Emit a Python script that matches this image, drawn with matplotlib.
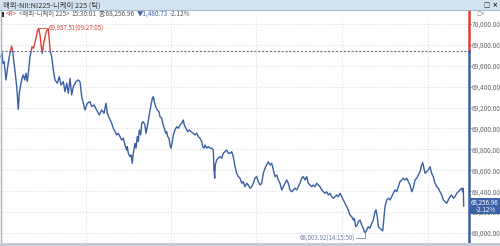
import matplotlib
matplotlib.use("Agg")
import matplotlib.pyplot as plt
import matplotlib.transforms as mtransforms
from matplotlib.patches import Rectangle
from matplotlib.lines import Line2D
import numpy as np

plt.rcParams['font.family'] = ['Noto Sans CJK KR', 'DejaVu Sans']

# ---------------- data ----------------
title = "해외-NII:NI225-니케이 225 (틱)"
header_parts = ["<R>", "<해외-니케이 225>", "15:30:01", "종:68,256.96", "▼1,480.73", "-2.12%"]
prev_close = 69737.69
last_price = 68256.96
last_change_pct = "-2.12%"
max_label = "69,957.51(09:27:05)"
min_label = "68,003.92(14:15:50)"

tick = [10, 20, 30, 40, 50, 60, 73, 87, 100, 117, 127, 140, 153, 167, 183, 193, 207, 220, 233, 247,
        260, 273, 287, 300, 310, 320, 333, 347, 360, 373, 387, 400, 413, 423, 437, 450, 467, 483, 493, 503,
        517, 533, 550, 573, 593, 610, 633, 650, 667, 683, 700, 717, 733, 760, 783, 800, 817, 833, 850, 873,
        900, 917, 940, 967, 993, 1017, 1040, 1060, 1073, 1093, 1117, 1133,
        1150, 1167, 1183, 1200, 1217, 1233, 1250, 1267, 1273, 1283, 1300, 1310, 1323, 1333, 1350, 1360,
        1373, 1383, 1393, 1407, 1417, 1433, 1450, 1460, 1473, 1490, 1507, 1523, 1533, 1543, 1557, 1573,
        1590, 1600, 1617, 1627, 1643, 1657, 1667, 1677, 1690, 1700, 1710, 1723, 1733, 1750, 1767, 1783,
        1800, 1817, 1833, 1843, 1860, 1877, 1893, 1910, 1933, 1950, 1967, 1983, 2000, 2017, 2027, 2040,
        2050, 2067, 2083, 2100, 2117, 2133, 2140, 2147, 2153, 2167, 2183, 2200, 2217, 2233, 2250, 2267,
        2283,
        2300, 2317, 2333, 2350, 2367, 2383, 2400, 2417, 2433, 2450, 2467, 2483, 2500, 2517, 2533, 2550,
        2567, 2583, 2600, 2617, 2633, 2650, 2667, 2683, 2700, 2717, 2733, 2750, 2767, 2783, 2800, 2817,
        2833, 2850, 2867, 2883, 2900, 2917, 2933, 2950, 2967, 2983, 3000, 3017, 3033, 3050, 3067, 3083,
        3100, 3117, 3133, 3150, 3167, 3183, 3200, 3217, 3233, 3250, 3267, 3283, 3300, 3317, 3333, 3350,
        3367, 3383, 3400, 3417, 3433, 3450, 3467, 3483, 3500,
        3517, 3533, 3543, 3557, 3573, 3583, 3600, 3617, 3633, 3643, 3653, 3667, 3683, 3700, 3717, 3733,
        3750, 3760, 3773, 3783, 3800, 3817, 3827, 3840, 3850, 3867, 3883, 3900, 3917, 3933, 3950, 3967,
        3983, 4000, 4017, 4033, 4050, 4067, 4083, 4100, 4117, 4133, 4150, 4167, 4183, 4200, 4217, 4227,
        4240, 4250, 4267, 4283, 4300, 4317, 4333, 4350, 4367, 4383, 4400, 4417, 4433, 4450, 4467, 4483,
        4500, 4517, 4533, 4550, 4567, 4583, 4600, 4617, 4627, 4633, 4637]

price = [69687, 69720, 69624, 69639, 69560, 69464, 69560, 69655, 69720, 69790, 69735, 69624, 69528, 69400, 69184, 69337, 69416, 69480, 69512, 69464,
         69528, 69448, 69560, 69687, 69735, 69783, 69767, 69809, 69863, 69926, 69957.51, 69895, 69783, 69720, 69815, 69878, 69936, 69949, 69847, 69735,
         69687, 69560, 69464, 69433, 69496, 69416, 69448, 69352, 69433, 69337, 69480, 69321, 69400, 69448, 69464, 69448, 69304, 69241, 69177, 69241,
         69256, 69209, 69225, 69177, 69129, 69177, 69145, 69241, 69145, 69098, 69050, 69002,
         68969, 68938, 68954, 68922, 68890, 68906, 68842, 68794, 68826, 68763, 68730, 68746, 68667, 68763, 68858, 68811,
         68922, 68874, 68986, 68938, 69050, 69065, 69033, 68954, 69017, 69113, 69209, 69289, 69304, 69256, 69209, 69177,
         69161, 69113, 69098, 69050, 69002, 68954, 68969, 68922, 68906, 68842, 68811, 68874, 68938, 68986, 69017, 69002,
         69033, 69050, 69081, 69033, 69002, 68969, 68986, 68969, 68954, 68938, 68954, 68922, 68906, 68874, 68826, 68811,
         68842, 68811, 68826, 68811, 68811, 68794, 68603, 68524, 68651, 68699, 68715, 68730, 68715, 68763, 68778, 68794,
         68763,
         68763, 68778, 68730, 68634, 68571, 68539, 68524, 68476, 68491, 68443, 68476, 68459, 68428, 68443, 68476, 68524,
         68539, 68491, 68459, 68476, 68571, 68619, 68651, 68682, 68651, 68667, 68603, 68539, 68555, 68507, 68476, 68412,
         68443, 68476, 68507, 68476, 68412, 68395, 68412, 68428, 68412, 68443, 68476, 68524, 68539, 68507, 68539, 68476,
         68459, 68443, 68459, 68443, 68476, 68459, 68443, 68412, 68395, 68380, 68395, 68364, 68380, 68347, 68332, 68347,
         68364, 68347, 68380, 68347, 68316, 68284, 68252, 68220, 68172,
         68156, 68124, 68141, 68060, 68077, 68108, 68124, 68077, 68045, 68012, 68003.92, 68029, 68060, 68045, 68093, 68124,
         68204, 68220, 68156, 68060, 68045, 68029, 68020, 68156, 68252, 68316, 68332, 68316, 68347, 68380, 68412, 68395,
         68443, 68491, 68507, 68524, 68507, 68524, 68491, 68459, 68395, 68428, 68507, 68524, 68555, 68587, 68651, 68673,
         68619, 68571, 68587, 68603, 68634, 68571, 68539, 68476, 68443, 68428, 68395, 68364, 68316, 68300, 68284, 68316,
         68347, 68364, 68332, 68347, 68380, 68395, 68412, 68428, 68395, 68428, 68256.96]

y_ticks = [68000, 68200, 68400, 68600, 68800, 69000, 69200, 69400, 69600, 69800, 70000]
x_grid = [860, 1710, 2560, 3420, 4280]

# ---------------- figure ----------------
W, H = 500, 246
fig = plt.figure(figsize=(W / 100, H / 100), dpi=100)
fig.patch.set_facecolor('white')

def fx(px):
    return px / W

def fy(py):
    return 1 - py / H

ax_left, ax_right, ax_top, ax_bot = 1, 468, 18, 243
ax = fig.add_axes([fx(ax_left), fy(ax_bot), fx(ax_right - ax_left), (ax_bot - ax_top) / H])
ax.set_facecolor('white')

ymax_v = 70057
ymin_v = 67904
ax.set_xlim(10, 4680)
ax.set_ylim(ymin_v, ymax_v)

# grid
for v in y_ticks:
    ax.axhline(v, color='#d5dae3', lw=0.6, ls=(0, (1.5, 2)), zorder=1)
for t in x_grid:
    ax.axvline(t, color='#d5dae3', lw=0.6, ls=(0, (1.5, 2)), zorder=1)
ax.axhline(prev_close, color='#707070', lw=0.8, ls=(0, (2, 1.5)), zorder=2)

blue = '#3a5fa5'
red = '#de4038'
x = np.array(tick, dtype=float)
p = np.array(price, dtype=float)

l_blue, = ax.plot(x, p, color=blue, lw=1.0, zorder=3)
l_red, = ax.plot(x, p, color=red, lw=1.0, zorder=4)
clip_above = Rectangle((0, prev_close), 10000, 5000, transform=ax.transData)
clip_below = Rectangle((0, prev_close - 5000), 10000, 5000, transform=ax.transData)
l_red.set_clip_path(clip_above)
l_blue.set_clip_path(clip_below)

# max annotation
imax = int(np.argmax(p))
ax.plot([x[imax], 485], [p[imax], p[imax]], color=red, lw=0.6, zorder=4)
ax.text(490, p[imax], max_label, color=red, fontsize=4.4, va='center', ha='left', zorder=5)

# min annotation
imin = int(np.argmin(p))
ax.plot([3560, x[imin], x[imin]], [p[imin] - 55, p[imin] - 55, p[imin] - 5], color='#7a8aa8',
        lw=0.6, zorder=4, clip_on=False)
ax.text(3550, p[imin] - 55, min_label, color='#6f7f9c', fontsize=4.4, va='center', ha='right', zorder=5)

# axes styling
for s in ['left', 'top', 'bottom', 'right']:
    ax.spines[s].set_visible(False)
ax.set_xticks([])
ax.yaxis.tick_right()
ax.set_yticks(y_ticks)
ax.set_yticklabels([f"{v:,.2f}" for v in y_ticks])
ax.tick_params(axis='y', length=2, width=0.6, color='#5a6f99', labelsize=4.7, labelcolor='#666666', pad=0.6)

# right axis line split at previous close
yt = ax.get_yaxis_transform()
ax.plot([1.002, 1.002], [prev_close, ymax_v + 200], color=red, lw=1.8, transform=yt, clip_on=False, zorder=6)
ax.plot([1.002, 1.002], [ymin_v, prev_close], color=blue, lw=1.8, transform=yt, clip_on=False, zorder=6)

# current price box
bt = mtransforms.blended_transform_factory(fig.transFigure, ax.transData)
box_h = 150
fig.add_artist(Rectangle((fx(469), last_price - box_h * 0.5), fx(31), box_h, transform=bt,
                         facecolor='#3d62a8', edgecolor='none', zorder=5))
fig.add_artist(plt.Text(fx(470.5), last_price + 36, f"{last_price:,.2f}", transform=bt, color='white',
                        fontsize=4.5, va='center', ha='left', zorder=6))
fig.add_artist(plt.Text(fx(476), last_price - 38, last_change_pct, transform=bt, color='white',
                        fontsize=4.5, va='center', ha='left', zorder=6))

# ---------------- frame / header ----------------
fig.add_artist(Rectangle((0, fy(10)), 1, 10 / H, transform=fig.transFigure,
                         facecolor='#d3e2f0', edgecolor='none', zorder=1))
fig.add_artist(Line2D([0, 1], [fy(10), fy(10)], transform=fig.transFigure, color='#9db6cf', lw=0.7, zorder=2))
fig.add_artist(Line2D([fx(0.5), fx(0.5)], [fy(10), fy(246)], transform=fig.transFigure, color='#9db6cf', lw=1.0, zorder=2))
fig.add_artist(Rectangle((0, 0), 1, 3 / H, transform=fig.transFigure,
                         facecolor='#c5ccd6', edgecolor='none', zorder=2))

fig.text(fx(3), fy(5.2), title, fontsize=5.3, color='#333333', va='center', ha='left')
fig.text(fx(484), fy(5), "□ ×", fontsize=4.8, color='#222222', va='center', ha='left',
         family=['DejaVu Sans'], fontweight='bold')
fig.text(fx(477), fy(13.5), "□×", fontsize=3.6, color='#777777', va='center', ha='left',
         family=['DejaVu Sans'])

# small marker bar at start of header row
fig.add_artist(Rectangle((fx(2), fy(16.5)), fx(1.6), 5 / H, transform=fig.transFigure,
                         facecolor='#333333', edgecolor='none', zorder=3))

renderer = fig.canvas.get_renderer()
hc = ['#d04040', '#555555', '#555555', '#555555', '#3d5fa5', '#555555']
cur = 6.0
for txt, col in zip(header_parts, hc):
    t = fig.text(fx(cur), fy(14), txt, fontsize=4.6, color=col, va='center', ha='left')
    bb = t.get_window_extent(renderer=renderer)
    cur = bb.x1 + 2.0

fig.savefig('out.png', dpi=100)
